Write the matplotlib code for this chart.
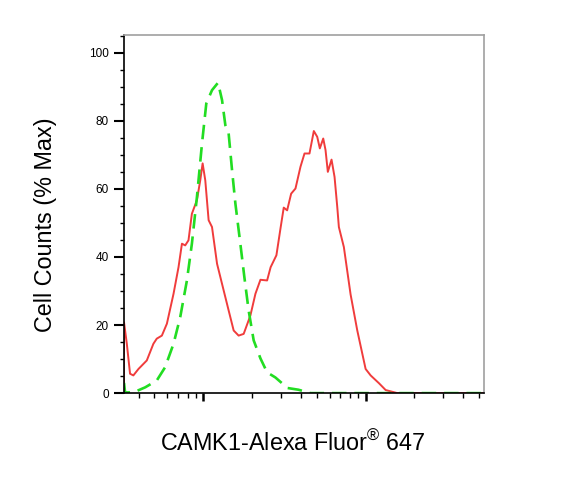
import numpy as np
import matplotlib
matplotlib.use('Agg')
import matplotlib.pyplot as plt
from matplotlib.ticker import LogLocator, NullFormatter, MultipleLocator

plt.rcParams['font.family'] = ['Liberation Sans', 'DejaVu Sans']
plt.rcParams['mathtext.fontset'] = 'custom'
plt.rcParams['mathtext.rm'] = 'Liberation Sans'

# stained sample (red, solid) - fluorescence intensity vs % max
red_x = [325, 325, 338, 354, 371, 399, 449, 493, 517, 556, 597, 656, 704, 739, 774,
         811, 851, 914, 958, 991, 1029, 1079, 1132, 1216, 1305, 1433, 1539, 1651,
         1774, 1951, 2096, 2250, 2473, 2600, 2822, 2988, 3131, 3286, 3478, 3698,
         3970, 4203, 4511, 4797, 5034, 5224, 5482, 5664, 5852, 6168, 6437, 6689,
         6843, 7346, 8080, 8885, 10000, 10740, 12090, 13290, 15690, 53450]
red_y = [0, 20.8, 14.6, 5.7, 5.2, 7.1, 9.6, 14.5, 16.0, 16.9, 20.4, 29.2, 37.0, 43.9,
         43.4, 44.9, 52.7, 56.7, 62.5, 67.5, 62.5, 50.8, 48.8, 38.0, 32.1, 24.3, 18.4,
         16.9, 17.4, 22.8, 29.2, 33.3, 33.1, 37.0, 40.5, 48.3, 54.5, 53.7, 58.6, 60.1,
         66.5, 70.4, 70.4, 77.0, 75.3, 71.9, 74.8, 71.4, 65.0, 68.6, 63.5, 54.7, 48.8,
         42.9, 29.0, 18.4, 7.1, 5.2, 2.9, 0.9, 0, 0]

# isotype control (green, dashed)
green_x = [325, 330, 371, 439, 517, 582, 656, 721, 793, 851, 914, 982, 1044, 1132,
           1233, 1305, 1368, 1433, 1504, 1577, 1692, 1791, 1903, 2044, 2250, 2473,
           2781, 3303, 3855, 4575, 53450]
green_y = [3.0, 0.2, 0.2, 1.7, 3.7, 7.6, 14.5, 22.3, 33.1, 43.9, 57.6, 73.3, 85.1,
           89.0, 91.2, 86.1, 78.7, 76.3, 65.5, 55.7, 43.9, 34.1, 24.3, 15.5, 10.2,
           6.1, 4.6, 1.5, 1.0, 0, 0]

y_ticks = [0, 20, 40, 60, 80, 100]

fig = plt.figure(figsize=(5.85, 4.8), dpi=100)
ax = fig.add_axes([0.212, 0.181, 0.615, 0.746])

ax.plot(red_x, red_y, color='#f03c3c', linewidth=1.4)
ax.plot(green_x, green_y, color='#22dd22', linewidth=1.9, linestyle=(0, (5.5, 3)))

ax.set_xscale('log')
ax.set_xlim(325, 53450)
ax.set_ylim(0, 105.2)

ax.xaxis.set_major_locator(LogLocator(base=10, numticks=10))
ax.xaxis.set_minor_locator(LogLocator(base=10, subs=np.arange(2, 10), numticks=20))
ax.xaxis.set_major_formatter(NullFormatter())
ax.xaxis.set_minor_formatter(NullFormatter())

ax.set_yticks(y_ticks)
ax.yaxis.set_minor_locator(MultipleLocator(5))

ax.tick_params(axis='y', which='major', length=7, width=1.5, labelsize=8.5, pad=4)
ax.tick_params(axis='y', which='minor', length=3.2, width=1)
ax.tick_params(axis='x', which='major', length=6, width=1.8)
ax.tick_params(axis='x', which='minor', length=3.5, width=1)

for side in ['left', 'bottom']:
    ax.spines[side].set_color('black')
    ax.spines[side].set_linewidth(1.2)
for side in ['top', 'right']:
    ax.spines[side].set_color('#a0a0a0')
    ax.spines[side].set_linewidth(1.2)

fig.text(0.077, 0.531, 'Cell Counts (% Max)', rotation=90, fontsize=16.8,
         ha='center', va='center')
fig.text(0.501, 0.077, r'CAMK1-Alexa Fluor$^{\mathrm{®}}$ 647', fontsize=16.8,
         ha='center', va='center')

fig.savefig('out.png', dpi=100)
